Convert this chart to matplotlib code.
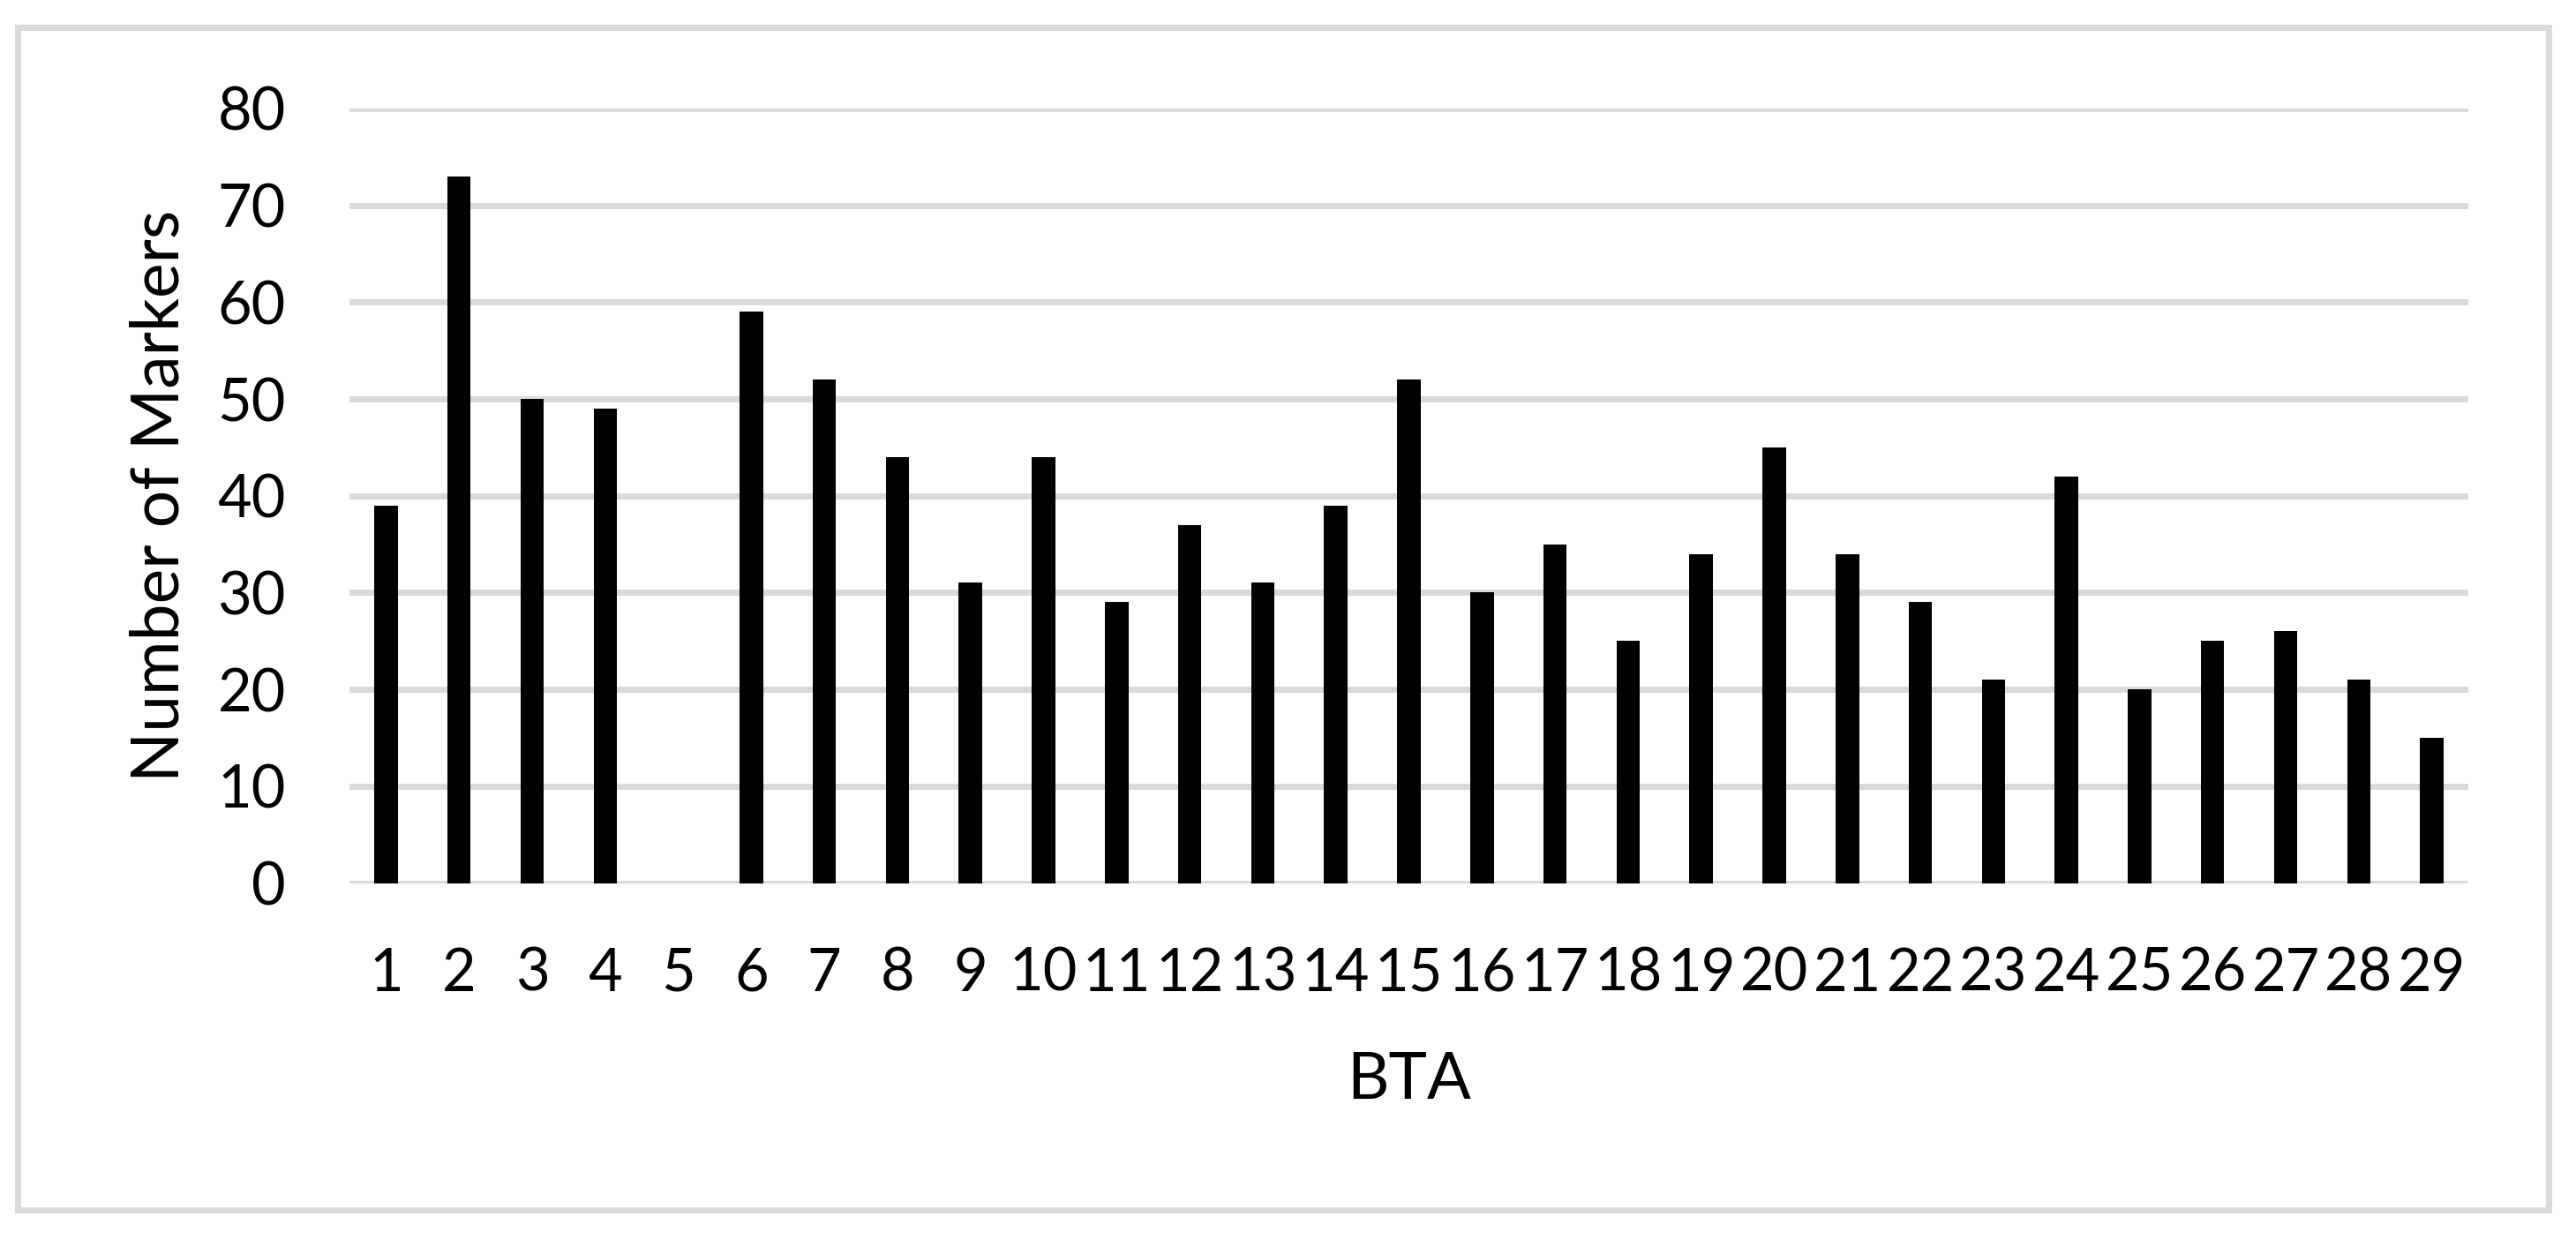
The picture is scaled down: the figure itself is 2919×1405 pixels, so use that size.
"""
Bar chart: number of markers per BTA chromosome.
Output: out.png (2919 x 1405 px)
"""

import matplotlib
matplotlib.use("Agg")
import matplotlib.pyplot as plt
from matplotlib.patches import Rectangle

matplotlib.rcParams.update({
    "font.family": ["Lato", "DejaVu Sans"],
})

# ── Data ──────────────────────────────────────────────────────────────────────
bta = list(range(1, 30))
n_markers = [39, 73, 50, 49, 0, 59, 52, 44, 31, 44,
             29, 37, 31, 39, 52, 30, 35, 25, 34, 45,
             34, 29, 21, 42, 20, 25, 26, 21, 15]
y_ticks = [0, 10, 20, 30, 40, 50, 60, 70, 80]

GRID = "#d9d9d9"

# ── Figure ────────────────────────────────────────────────────────────────────
W, H, DPI = 2919, 1405, 100
fig = plt.figure(figsize=(W / DPI, H / DPI), dpi=DPI)

# axes box in pixels: x 396..2797, y 123..1000.5
X0, X1, Y0, Y1 = 396, 2797, 123, 1000.5
ax = fig.add_axes([X0 / W, 1 - Y1 / H, (X1 - X0) / W, (Y1 - Y0) / H])

ax.bar(bta, n_markers, width=0.32, color="black", zorder=3)

ax.set_xlim(0.5, 29.5)
ax.set_ylim(0, 80)
ax.set_xticks(bta)
ax.set_xticklabels([str(b) for b in bta])
ax.set_yticks(y_ticks)

ax.yaxis.grid(True, color=GRID, linewidth=5.0, zorder=0)
ax.set_axisbelow(True)
for s in ax.spines.values():
    s.set_visible(False)

ax.tick_params(axis="x", length=0, pad=52, labelsize=48)
ax.tick_params(axis="y", length=0, pad=52, labelsize=48)

ax.set_xlabel("BTA", fontsize=53)
ax.xaxis.label.set_va("baseline")
ax.xaxis.set_label_coords(0.5, (Y1 - 1245) / (Y1 - Y0))

ax.set_ylabel("Number of Markers", fontsize=54)
ax.yaxis.label.set_va("center")
ax.yaxis.set_label_coords((181 - X0) / (X1 - X0), 0.5)

# outer chart border
fig.patches.append(Rectangle((19.5 / W, 1 - 1370.5 / H),
                             (2887.5 - 19.5) / W, (1370.5 - 30.5) / H,
                             transform=fig.transFigure, fill=False,
                             edgecolor=GRID, linewidth=5.0))

fig.savefig("out.png", dpi=DPI)
